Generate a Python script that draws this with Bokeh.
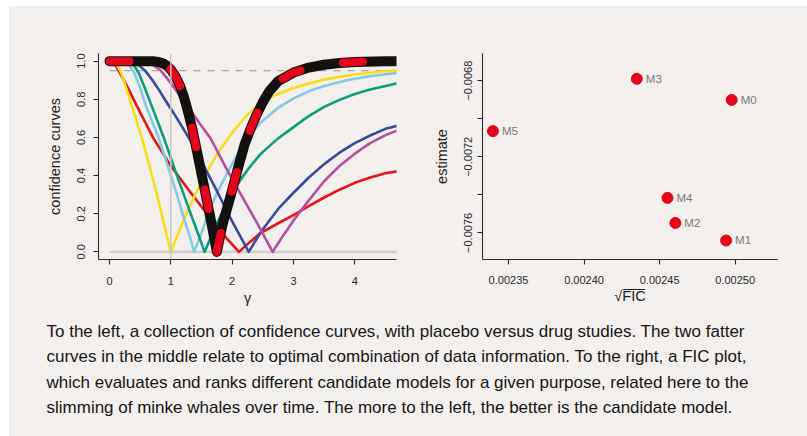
from bokeh.plotting import figure
from bokeh.layouts import row, column
from bokeh.models import Range1d, FixedTicker, CustomJSTickFormatter, Span
from bokeh.embed import file_html
from bokeh.resources import INLINE
from bokeh.core.properties import value

BG = "#f2efec"
FONT = "Liberation Sans"
INK = "#2a2a2a"

# ---------------- confidence curves: (gamma, confidence) ----------------
yellow_g = [0.0, 0.05, 0.1, 0.15, 0.2, 0.3, 0.42, 0.53, 0.65, 0.75, 0.85, 0.93, 1.0,
            1.1, 1.25, 1.5, 1.75, 2.0, 2.25, 2.5, 2.75, 3.0, 3.25, 3.5, 3.75,
            4.0, 4.25, 4.5, 4.7]
yellow_c = [1.0, 0.998, 0.988, 0.965, 0.93, 0.83, 0.71, 0.594, 0.45, 0.33, 0.20, 0.09, 0.0,
            0.08, 0.20, 0.37, 0.51, 0.625, 0.72, 0.79, 0.828, 0.859, 0.883, 0.903, 0.918,
            0.93, 0.939, 0.947, 0.952]

lightblue_g = [0.0, 0.15, 0.25, 0.32, 0.4, 0.5, 0.6, 0.7, 0.8, 0.9, 1.0, 1.1, 1.2, 1.3, 1.38,
               1.5, 1.6, 1.7, 1.8, 1.98, 2.2, 2.47, 2.75, 3.0, 3.25, 3.5, 3.75,
               4.0, 4.25, 4.5, 4.7]
lightblue_c = [1.0, 1.0, 0.993, 0.978, 0.94, 0.86, 0.76, 0.68, 0.60, 0.50, 0.40, 0.30, 0.19, 0.09, 0.0,
               0.10, 0.19, 0.27, 0.34, 0.45, 0.575, 0.68, 0.755, 0.805, 0.842, 0.87, 0.891,
               0.908, 0.921, 0.931, 0.938]

teal_g = [0.0, 0.25, 0.32, 0.4, 0.48, 0.55, 0.7, 0.89, 1.1, 1.3, 1.45, 1.55,
          1.65, 1.75, 1.98, 2.14, 2.3, 2.47, 2.75, 3.0, 3.25, 3.5, 3.75,
          4.0, 4.25, 4.5, 4.7]
teal_c = [1.0, 0.998, 0.993, 0.978, 0.935, 0.88, 0.755, 0.594, 0.40, 0.22, 0.09, 0.0,
          0.075, 0.15, 0.295, 0.38, 0.45, 0.515, 0.595, 0.654, 0.712, 0.76, 0.797,
          0.828, 0.851, 0.87, 0.884]

navy_g = [0.0, 0.3, 0.4, 0.48, 0.58, 0.7, 0.8, 0.9, 1.1, 1.3, 1.5, 1.75, 2.0, 2.27,
          2.47, 2.75, 3.0, 3.25, 3.5, 3.75, 4.0, 4.25, 4.5, 4.7]
navy_c = [1.0, 0.998, 0.992, 0.978, 0.95, 0.90, 0.852, 0.80, 0.70, 0.594, 0.475, 0.32, 0.16, 0.0,
          0.105, 0.225, 0.31, 0.39, 0.46, 0.52, 0.57, 0.61, 0.645, 0.662]

magenta_g = [0.0, 0.5, 0.6, 0.72, 0.82, 0.9, 1.0, 1.1, 1.3, 1.5, 1.65, 1.9, 2.1, 2.4, 2.66,
             2.8, 3.0, 3.25, 3.5, 3.75, 4.0, 4.25, 4.5, 4.7]
magenta_c = [1.0, 0.998, 0.992, 0.978, 0.955, 0.925, 0.885, 0.84, 0.75, 0.66, 0.594, 0.44, 0.325, 0.155, 0.0,
             0.07, 0.165, 0.27, 0.37, 0.45, 0.515, 0.57, 0.612, 0.637]

red_g = [0.0, 0.03, 0.1, 0.2, 0.3, 0.5, 0.72, 1.0, 1.3, 1.6, 1.87, 2.11,
         2.3, 2.47, 2.75, 3.0, 3.25, 3.5, 3.75, 4.0, 4.25, 4.5, 4.7]
red_c = [1.0, 1.0, 0.978, 0.92, 0.86, 0.73, 0.594, 0.45, 0.32, 0.195, 0.085, 0.0,
         0.055, 0.10, 0.15, 0.193, 0.24, 0.285, 0.326, 0.362, 0.39, 0.412, 0.423]

# the two combined curves (solid black and dashed red) run on top of each other
combined_g = [0.0, 0.5, 0.7, 0.8, 0.88, 0.94, 1.0, 1.08, 1.15, 1.21, 1.28, 1.35, 1.45, 1.55, 1.65, 1.75,
              1.84, 1.98, 2.11, 2.2, 2.3, 2.4, 2.5, 2.6, 2.75, 3.0, 3.25, 3.5, 3.75, 4.0, 4.5, 4.7]
combined_c = [1.0, 1.0, 0.999, 0.995, 0.987, 0.975, 0.955, 0.918, 0.87, 0.816, 0.735, 0.645, 0.49, 0.33, 0.17, 0.0,
              0.14, 0.30, 0.457, 0.56, 0.645, 0.72, 0.785, 0.84, 0.895, 0.94, 0.966, 0.981, 0.99, 0.996, 1.0, 1.0]

null_gamma = 1.0        # vertical reference line
ref_level = 0.95        # dashed reference level
gamma_ticks = [0, 1, 2, 3, 4]
conf_ticks = [0.0, 0.2, 0.4, 0.6, 0.8, 1.0]

# ---------------- FIC plot ----------------
model_names = ["M0", "M1", "M2", "M3", "M4", "M5"]
sqrt_fic = [0.0024977, 0.0024940, 0.0024604, 0.0024349, 0.0024552, 0.0023397]
estimate = [-0.006901, -0.007640, -0.007548, -0.006790, -0.007416, -0.007065]
fic_ticks = [0.00235, 0.00240, 0.00245, 0.00250]
fic_tick_labels = ["0.00235", "0.00240", "0.00245", "0.00250"]
est_ticks = [-0.0076, -0.0074, -0.0072, -0.0070, -0.0068]
est_tick_labels = ["\u22120.0076", "", "\u22120.0072", "", "\u22120.0068"]

caption_lines = [
    "To the left, a collection of confidence curves, with placebo versus drug studies. The two fatter",
    "curves in the middle relate to optimal combination of data information. To the right, a FIC plot,",
    "which evaluates and ranks different candidate models for a given purpose, related here to the",
    "slimming of minke whales over time. The more to the left, the better is the candidate model.",
]


def style_axes(p):
    for ax in (p.xaxis, p.yaxis):
        ax.axis_line_color = INK
        ax.axis_line_width = 1.1
        ax.major_tick_line_color = INK
        ax.major_tick_line_width = 1.1
        ax.major_tick_out = 5
        ax.major_tick_in = 0
        ax.minor_tick_line_color = None
        ax.major_label_text_font = FONT
        ax.major_label_text_font_size = "11px"
        ax.major_label_text_color = INK
        ax.axis_label_text_font = FONT
        ax.axis_label_text_font_style = "normal"
        ax.axis_label_text_color = "#1e1e1e"
        ax.axis_label_text_font_size = "14.5px"
    p.yaxis.major_label_orientation = "vertical"
    p.grid.visible = False


# ---------------- left panel ----------------
left = figure(width=411, height=304, output_backend="svg", toolbar_location=None,
              x_range=Range1d(-0.18, 4.68), y_range=Range1d(-0.04, 1.04),
              min_border_left=89, min_border_right=24, min_border_top=47,
              min_border_bottom=46, background_fill_color=BG, border_fill_color=BG,
              outline_line_color=None)
style_axes(left)
left.xaxis.ticker = FixedTicker(ticks=gamma_ticks)
left.yaxis.ticker = FixedTicker(ticks=conf_ticks)
left.yaxis.formatter = CustomJSTickFormatter(code="return tick.toFixed(1);")
left.xaxis.axis_label = "\u03b3"
left.yaxis.axis_label = "confidence curves"
left.xaxis.major_label_standoff = 12
left.yaxis.major_label_standoff = 8
left.xaxis.axis_label_standoff = 2
left.yaxis.axis_label_standoff = 12

left.add_layout(Span(location=null_gamma, dimension="height",
                     line_color="#c9c6c3", line_width=1.5))
left.segment(x0=[combined_g[0]], y0=[0.0], x1=[combined_g[-1]], y1=[0.0],
             line_color="#d3d0cd", line_width=2.8)
left.segment(x0=[combined_g[0]], y0=[ref_level], x1=[combined_g[-1]], y1=[ref_level],
             line_color="#a8a8a8", line_width=1.4, line_dash="7 7")

curves = [
    (red_g, red_c, "#e5141d"),
    (yellow_g, yellow_c, "#f7df18"),
    (lightblue_g, lightblue_c, "#85cae2"),
    (teal_g, teal_c, "#0e9d7a"),
    (navy_g, navy_c, "#3c4a9b"),
    (magenta_g, magenta_c, "#b4509e"),
]
for g, c, col in curves:
    left.line(g, c, line_color=col, line_width=2.6, line_join="round", line_cap="round")

left.line(combined_g, combined_c, line_color="#121110", line_width=10,
          line_join="round", line_cap="round")
left.line(combined_g, combined_c, line_color="#e3061a", line_width=8,
          line_join="round", line_cap="round", line_dash="20 43")

# ---------------- right panel ----------------
right = figure(width=387, height=304, output_backend="svg", toolbar_location=None,
               x_range=Range1d(0.0023328, 0.0025280), y_range=Range1d(-0.007740, -0.006657),
               min_border_left=62, min_border_right=30, min_border_top=44,
               min_border_bottom=51, background_fill_color=BG, border_fill_color=BG,
               outline_line_color=None)
style_axes(right)
right.xaxis.ticker = FixedTicker(ticks=fic_ticks)
right.yaxis.ticker = FixedTicker(ticks=est_ticks)
right.xaxis.formatter = CustomJSTickFormatter(args=dict(labels=fic_tick_labels),
                                              code="return labels[index];")
right.yaxis.formatter = CustomJSTickFormatter(args=dict(labels=est_tick_labels),
                                              code="return labels[index];")
right.xaxis.axis_label = "\u221aF\u0305I\u0305C\u0305"
right.yaxis.axis_label = "estimate"
right.xaxis.major_label_standoff = 11
right.yaxis.major_label_standoff = 5
right.xaxis.axis_label_standoff = 1
right.yaxis.axis_label_standoff = 12

right.scatter(sqrt_fic, estimate, size=11, fill_color="#e3061a", line_color="#e3061a")
right.text(sqrt_fic, estimate, text=model_names, x_offset=9, text_baseline="middle",
           text_align="left", text_font=value(FONT), text_font_size="11.5px",
           text_color="#7a7a7a")

# ---------------- caption ----------------
cap = figure(width=798, height=126, output_backend="svg", toolbar_location=None,
             x_range=Range1d(0, 798), y_range=Range1d(126, 0),
             x_axis_location=None, y_axis_location=None,
             min_border=0, background_fill_color=BG, border_fill_color=BG,
             outline_line_color=None)
cap.grid.visible = False
line_step = 25.3
cap.text(x=[37] * len(caption_lines), y=[21 + i * line_step for i in range(len(caption_lines))],
         text=caption_lines, text_baseline="middle", text_align="left",
         text_font=value(FONT), text_font_size="17px", text_color="#161616")

panel_style = {"background-color": BG}
top_row = row(left, right, styles=panel_style)
layout = column(top_row, cap, margin=(6, 0, 0, 9), styles=panel_style)

with open("out.html", "w") as f:
    f.write(file_html(layout, INLINE))
